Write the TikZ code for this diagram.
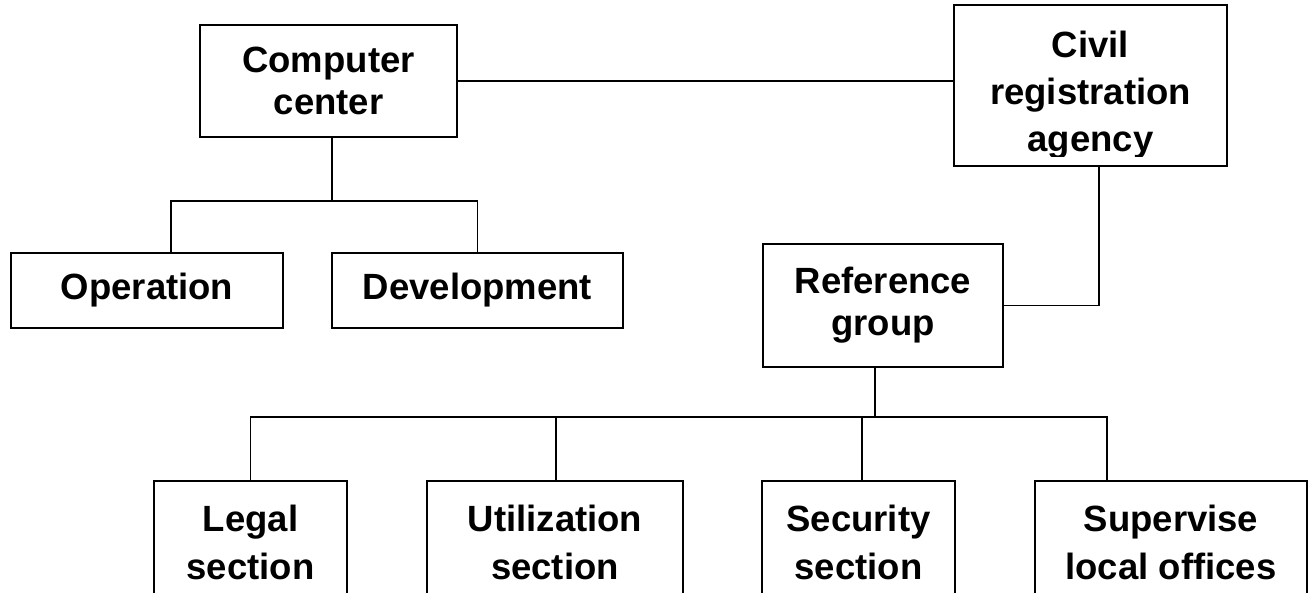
\documentclass[tikz,border=0pt]{standalone}
\usepackage{fontspec}
\setmainfont{Liberation Sans}
\begin{document}
\begin{tikzpicture}[x=1pt,y=-1pt,
  box/.style={draw=black, line width=1.6pt, inner sep=0pt, align=center,
    font=\fontsize{36.5}{42}\selectfont\bfseries},
  lowbox/.style={box, minimum height=123pt, font=\fontsize{36.5}{48}\selectfont\bfseries},
  txt/.style={inner sep=0pt, align=center, font=\fontsize{36.5}{47}\selectfont\bfseries},
  conn/.style={draw=black, line width=1.6pt}
]
\useasboundingbox (0,0) rectangle (1309,592);
\clip (0,0) rectangle (1309,592);
\fill[white] (0,0) rectangle (1309,592);

% top level
\node[box, minimum width=257pt, minimum height=112pt] (cc) at (328.5,81) {Computer\\center};
\node[box, minimum width=273pt, minimum height=161pt] (civ) at (1090.5,85.5) {};
\begin{scope}
  \clip (954,5) rectangle (1227,156);
  \node[txt] (civt) at (1090.5,95.5) {Civil\\registration\\agency};
\end{scope}

% computer center children
\node[box, minimum width=272pt, minimum height=75pt] (op) at (147,290.5) {Operation};
\node[box, minimum width=291pt, minimum height=75pt] (dev) at (477.5,290.5) {Development};

% reference group
\node[box, minimum width=240pt, minimum height=123pt] (ref) at (883,305.5) {Reference\\group};

% bottom row
\node[lowbox, minimum width=193pt] (leg) at (250.5,542.5) {Legal\\section};
\node[lowbox, minimum width=256pt] (uti) at (555,542.5) {Utilization\\section};
\node[lowbox, minimum width=193pt] (sec) at (858.5,542.5) {Security\\section};
\node[lowbox, minimum width=272pt] (sup) at (1171,542.5) {Supervise\\local offices};

% junctions
\coordinate (j1) at (332,201);
\coordinate (j2) at (875,417);

% connectors
\draw[conn] (cc.east) -- (cc.east -| civ.west);
\draw[conn] ([xshift=3.5pt]cc.south) -- (j1);
\draw[conn] ([xshift=24pt]op.north) |- (j1) -| (dev.north);
\draw[conn] ([xshift=8.5pt]civ.south) |- (ref.east);
\draw[conn] ([xshift=-8pt]ref.south) -- (j2);
\draw[conn] (leg.north) |- ([xshift=-64pt]sup.north |- j2) -- ([xshift=-64pt]sup.north);
\draw[conn] ([xshift=1pt]uti.north) -- ([xshift=1pt]uti.north |- j2);
\draw[conn] ([xshift=3.5pt]sec.north) -- ([xshift=3.5pt]sec.north |- j2);
\end{tikzpicture}
\end{document}
